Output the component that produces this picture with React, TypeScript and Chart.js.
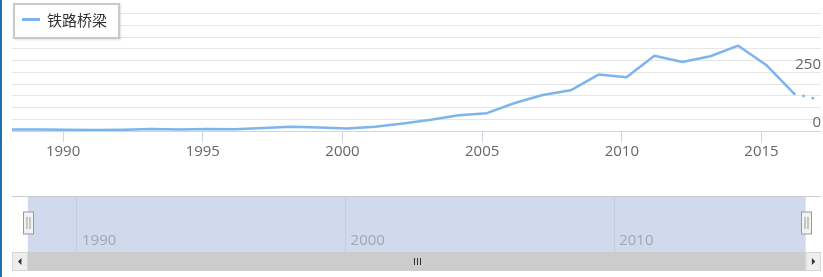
import React, { useEffect, useRef } from 'react';
import { Chart, registerables } from 'chart.js';

Chart.register(...registerables);

// ---- data ----
const SERIES_NAME = '铁路桥梁';
const DATES = [
  '1988-03', '1989-03', '1990-03', '1991-03', '1992-03', '1993-03', '1994-03', '1995-03',
  '1996-03', '1997-03', '1998-03', '1999-03', '2000-03', '2001-03', '2002-03', '2003-03',
  '2004-03', '2005-03', '2006-03', '2007-03', '2008-03', '2009-03', '2010-03', '2011-03',
  '2012-03', '2013-03', '2014-03', '2015-03', '2016-03', '2017-02',
];
const VALUES = [
  6, 6, 5, 4, 5, 8, 6, 9,
  7, 13, 18, 15, 11, 18, 32, 48,
  67, 76, 119, 153, 173, 240, 229, 320,
  294, 318, 363, 281, 159, 133,
];
const LAST_CONFIRMED_DATE = '2016-03';
const X_TICKS = [1990, 1995, 2000, 2005, 2010, 2015];
const NAV_TICKS = [1990, 2000, 2010];
const Y_LABELS = [0, 250];
const Y_MIN = 0;
const Y_MAX = 500;
const Y_STEP = 50;
const VIEW_RANGE = [1988.17, 2017.13];
const NAV_RANGE = [1987.58, 2017.7];

const FONT = "'Open Sans', 'Noto Sans', sans-serif";
const LINE_COLOR = '#7cb5ec';

const toYear = (d: string) => {
  const [y, m] = d.split('-').map(Number);
  return y + (m - 1) / 12;
};

export default function App() {
  const mainRef = useRef<HTMLCanvasElement>(null);
  const navRef = useRef<HTMLCanvasElement>(null);

  useEffect(() => {
    const lastSolid = DATES.indexOf(LAST_CONFIRMED_DATE);
    const main = new Chart(mainRef.current as HTMLCanvasElement, {
      type: 'line',
      data: {
        datasets: [
          {
            label: SERIES_NAME,
            data: DATES.map((d, i) => ({ x: toYear(d), y: VALUES[i] })),
            borderColor: LINE_COLOR,
            borderWidth: 2.5,
            pointRadius: 0,
            tension: 0,
            borderCapStyle: 'round',
            borderJoinStyle: 'round',
            segment: {
              borderDash: (ctx: any) => (ctx.p0DataIndex >= lastSolid ? [0.5, 9] : undefined),
            },
          } as any,
        ],
      },
      options: {
        animation: false,
        responsive: false,
        maintainAspectRatio: false,
        layout: { padding: { left: 12, right: 2, top: 13.5, bottom: 9 } },
        plugins: { legend: { display: false }, tooltip: { enabled: false } },
        scales: {
          x: {
            type: 'linear',
            min: VIEW_RANGE[0],
            max: VIEW_RANGE[1],
            afterBuildTicks: (s: any) => {
              s.ticks = X_TICKS.map((v) => ({ value: v }));
            },
            grid: {
              display: true,
              drawOnChartArea: false,
              drawTicks: true,
              tickLength: 11,
              tickColor: '#ccd6eb',
            },
            border: { display: true, color: '#ccd6eb', width: 1 },
            ticks: {
              autoSkip: false,
              maxRotation: 0,
              padding: 0.5,
              color: '#666666',
              font: { size: 15, family: FONT },
              callback: (v: any) => String(v),
            },
          },
          y: {
            position: 'right',
            min: Y_MIN,
            max: Y_MAX,
            grid: {
              drawTicks: false,
              color: (ctx: any) => (ctx.tick && ctx.tick.value === 0 ? 'rgba(0,0,0,0)' : '#e6e6e6'),
            },
            border: { display: false },
            ticks: {
              stepSize: Y_STEP,
              autoSkip: false,
              mirror: true,
              padding: 0,
              labelOffset: -8,
              color: '#666666',
              font: { size: 15, family: FONT },
              callback: (v: any) => (Y_LABELS.includes(Number(v)) ? String(v) : ''),
            },
          },
        },
      },
    });

    const navigatorPlugin = {
      id: 'navigatorDecor',
      beforeDraw(chart: any) {
        const { ctx, chartArea, scales } = chart;
        const x0 = scales.x.getPixelForValue(VIEW_RANGE[0]);
        const x1 = scales.x.getPixelForValue(VIEW_RANGE[1]);
        ctx.save();
        ctx.fillStyle = 'rgba(102,133,194,0.3)';
        ctx.fillRect(x0, chartArea.top, x1 - x0, chartArea.bottom - chartArea.top);
        ctx.restore();
      },
      afterDraw(chart: any) {
        const { ctx, chartArea, scales } = chart;
        const x0 = scales.x.getPixelForValue(VIEW_RANGE[0]);
        const x1 = scales.x.getPixelForValue(VIEW_RANGE[1]);
        ctx.save();
        // outline
        ctx.strokeStyle = '#cccccc';
        ctx.lineWidth = 1;
        ctx.beginPath();
        ctx.moveTo(chartArea.left, chartArea.top + 0.5);
        ctx.lineTo(chartArea.right, chartArea.top + 0.5);
        ctx.stroke();
        // handles
        const hy = chartArea.top + 16;
        [x0, x1].forEach((hx) => {
          const left = Math.round(hx - 5) + 0.5;
          ctx.fillStyle = '#f2f2f2';
          ctx.strokeStyle = '#999999';
          ctx.lineWidth = 1;
          ctx.fillRect(left, hy, 10, 22);
          ctx.strokeRect(left, hy, 10, 22);
          ctx.beginPath();
          ctx.moveTo(left + 3.5, hy + 5);
          ctx.lineTo(left + 3.5, hy + 17);
          ctx.moveTo(left + 6.5, hy + 5);
          ctx.lineTo(left + 6.5, hy + 17);
          ctx.stroke();
        });
        // scrollbar
        const sy = chartArea.bottom;
        const sh = 19;
        ctx.fillStyle = '#f2f2f2';
        ctx.fillRect(chartArea.left, sy, chartArea.right - chartArea.left, sh);
        ctx.fillStyle = '#cccccc';
        ctx.fillRect(x0, sy, x1 - x0, sh);
        // buttons
        const bw = x0 - chartArea.left;
        ctx.fillStyle = '#eeeeee';
        ctx.strokeStyle = '#d6d6d6';
        ctx.fillRect(chartArea.left, sy, bw, sh);
        ctx.strokeRect(chartArea.left + 0.5, sy + 0.5, bw - 1, sh - 1);
        ctx.fillRect(x1, sy, chartArea.right - x1, sh);
        ctx.strokeRect(x1 + 0.5, sy + 0.5, chartArea.right - x1 - 1, sh - 1);
        ctx.fillStyle = '#333333';
        const cy = sy + sh / 2;
        const lx = chartArea.left + bw / 2;
        ctx.beginPath();
        ctx.moveTo(lx - 2, cy);
        ctx.lineTo(lx + 1.5, cy - 3.5);
        ctx.lineTo(lx + 1.5, cy + 3.5);
        ctx.closePath();
        ctx.fill();
        const rx = (x1 + chartArea.right) / 2;
        ctx.beginPath();
        ctx.moveTo(rx + 2, cy);
        ctx.lineTo(rx - 1.5, cy - 3.5);
        ctx.lineTo(rx - 1.5, cy + 3.5);
        ctx.closePath();
        ctx.fill();
        // rifles
        const mx = Math.round((x0 + x1) / 2);
        ctx.strokeStyle = '#333333';
        ctx.lineWidth = 1;
        ctx.beginPath();
        [-3, 0, 3].forEach((d) => {
          ctx.moveTo(mx + d + 0.5, cy - 3.5);
          ctx.lineTo(mx + d + 0.5, cy + 3.5);
        });
        ctx.stroke();
        ctx.restore();
      },
    };

    const nav = new Chart(navRef.current as HTMLCanvasElement, {
      type: 'line',
      data: { datasets: [] },
      options: {
        animation: false,
        responsive: false,
        maintainAspectRatio: false,
        layout: { padding: { left: 12, right: 2, top: 16, bottom: 5 } },
        plugins: { legend: { display: false }, tooltip: { enabled: false } },
        scales: {
          x: {
            type: 'linear',
            min: NAV_RANGE[0],
            max: NAV_RANGE[1],
            afterBuildTicks: (s: any) => {
              s.ticks = NAV_TICKS.map((v) => ({ value: v }));
            },
            afterFit: (s: any) => {
              s.height = 20;
            },
            grid: { drawTicks: false, color: '#c3cce0', lineWidth: 1 },
            border: { display: false },
            ticks: {
              autoSkip: false,
              maxRotation: 0,
              align: 'start',
              mirror: true,
              labelOffset: 5,
              padding: 2,
              color: '#a2a6b2',
              font: { size: 15, family: FONT },
              callback: (v: any) => String(v),
            },
          },
          y: { display: false, min: 0, max: 1 },
        },
      },
      plugins: [navigatorPlugin],
    });

    return () => {
      main.destroy();
      nav.destroy();
    };
  }, []);

  return (
    <div
      style={{
        position: 'fixed',
        left: 0,
        top: 0,
        width: 823,
        height: 277,
        background: '#ffffff',
        overflow: 'hidden',
      }}
    >
      <canvas ref={mainRef} width={823} height={170} style={{ position: 'absolute', left: 0, top: 0 }} />
      <canvas ref={navRef} width={823} height={97} style={{ position: 'absolute', left: 0, top: 180 }} />
      <div
        style={{
          position: 'absolute',
          left: 13,
          top: 3,
          width: 107,
          height: 36,
          boxSizing: 'border-box',
          border: '2px solid #c9c9c9',
          background: '#ffffff',
          boxShadow: '1px 1px 2px rgba(0,0,0,0.12)',
        }}
      >
        <div
          style={{
            position: 'absolute',
            left: 7,
            top: 13,
            width: 18,
            height: 2.5,
            background: LINE_COLOR,
          }}
        />
        <span
          style={{
            position: 'absolute',
            left: 32,
            top: 5,
            fontSize: 15,
            lineHeight: '20px',
            color: '#333333',
            whiteSpace: 'nowrap',
            fontFamily: "'Noto Sans CJK SC', sans-serif",
          }}
        >
          {SERIES_NAME}
        </span>
      </div>
      <div
        style={{
          position: 'absolute',
          left: 0,
          top: 0,
          width: 2,
          height: 277,
          background: '#1f6fae',
        }}
      />
    </div>
  );
}
